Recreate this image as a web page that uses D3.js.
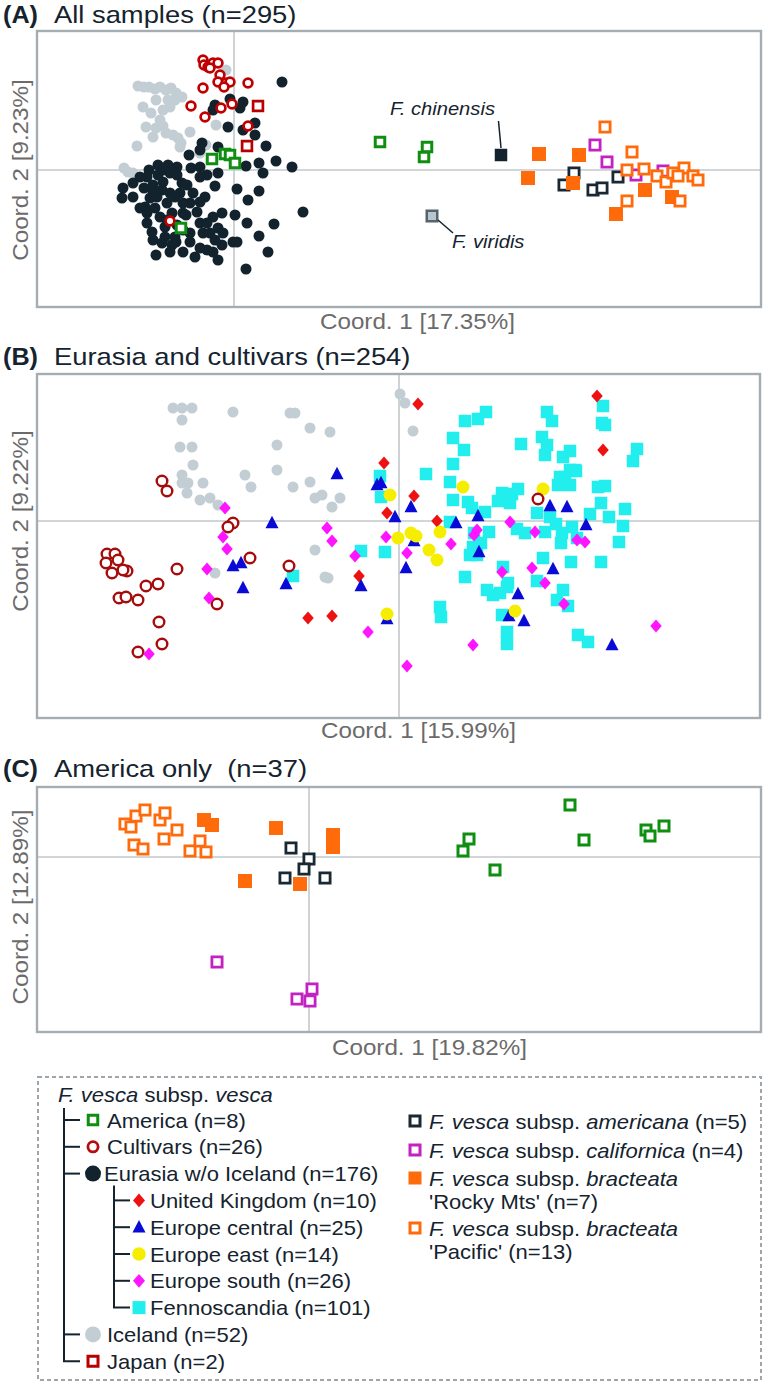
<!DOCTYPE html>
<html><head><meta charset="utf-8">
<script src="https://cdn.jsdelivr.net/npm/d3@7"></script>
<style>body{margin:0;background:#fff;} svg{display:block;font-family:"Liberation Sans",Arial,Helvetica,sans-serif;} text{white-space:pre;}</style>
</head><body><svg id="c" width="766" height="1385"></svg>
<script>
// ---------- DATA (PCoA scores, arbitrary units x100) ----------
// Panel A: all samples
const aIceland = [[-96,84],[-90,83],[-85,83],[-79,81],[-74,83],[-68,80],[-63,82],[-58,77],[-52,73],[-59,70],[-66,70],[-78,70],[-91,63],[-71,60],[-64,63],[-88,43],[-78,42],[-71,44],[-68,37],[-61,35],[-56,32],[-53,27],[-44,38],[-81,33],[-97,24],[-28,25],[-18,45],[-8,100],[-110,2],[-106,-2],[-101,-3],[-34,17],[-74,50],[-83,57],[-54,23]];
const aEurasia = [[48,88],[9,68],[6,62],[-4,71],[-19,65],[-21,60],[-6,43],[21,47],[21,35],[9,40],[-32,27],[-45,15],[-34,20],[-16,23],[32,24],[42,9],[58,3],[29,-3],[25,7],[12,4],[-43,2],[-34,3],[-27,-5],[-16,-3],[-19,-16],[3,-19],[25,-21],[14,-30],[69,-42],[40,-54],[25,-66],[34,-82],[12,-99],[1,-45],[13,-53],[-1,-72],[3,-72],[-12,-43],[-21,-47],[-16,-58],[-12,-75],[-16,-90],[-21,-82],[-34,-78],[-51,-82],[-64,-82],[-78,-85],[-72,-73],[-58,-72],[-44,-63],[-34,-53],[-31,-63],[-37,-42],[-44,-33],[-34,-32],[-47,-15],[-54,-23],[-111,-18],[-112,-28],[-101,-27],[-90,-18],[-87,-7],[-76,5],[-66,5],[-57,-5],[-64,-3],[-76,-5],[-81,-15],[-72,-20],[-84,-28],[-89,-37],[-79,-38],[-67,-33],[-62,-43],[-74,-47],[-87,-53],[-82,-62],[-69,-57],[-57,-55],[-51,-43],[-59,-27],[-71,-12],[-52,-13],[-64,-23],[-77,-27],[-87,-43],[-94,-38],[-51,-60],[-44,-72],[-24,-63],[-27,-53],[-59,-67],[-69,-67],[-67,-50],[-81,-22],[-51,-33],[-41,-23],[-29,-27],[-48,-45],[-81,-70],[-62,-75],[-39,-87],[-27,-80],[-19,-70],[-11,-63],[-34,-7],[-57,3],[-71,0],[-85,0],[-94,-7],[-101,-13]];
const aCultivars = [[-31,110],[-30,105],[-26,103],[-21,107],[-16,107],[-14,95],[-16,88],[-8,87],[-4,88],[14,87],[-31,82],[-43,64],[-29,53],[-13,62],[-2,66],[14,44],[-64,-51],[-24,102],[-10,83]];
const aJapan = [[24,64],[13,24]];
const aAmerica = [[-22,11],[-9,16],[-4,15],[1,7],[-53,-58],[146,28],[193,23],[190,13]];
const aAmericana = [[340,-3],[330,-15],[359,-20],[368,-18],[384,-7]];
const aCalifornica = [[361,25],[373,8],[402,-5],[429,-1]];
const aRocky = [[305,16],[345,15],[294,-8],[339,-13],[411,-20],[438,-27],[382,-44]];
const aPacific = [[371,43],[398,18],[393,0],[410,1],[423,-6],[432,-12],[439,-3],[450,2],[459,-6],[464,-10],[446,-31],[393,-31],[444,-6]];
const aChinensis = [[267,15]];
const aViridis = [[198,-46]];

// Panel B: Eurasia and cultivars
const bIceland = [[-226,113],[-217,113],[-207,113],[-217,101],[-166,109],[-109,108],[-104,108],[-89,93],[-69,89],[-219,74],[-207,74],[-122,76],[-206,56],[-217,46],[-211,38],[-217,38],[-212,28],[-199,21],[-189,23],[-181,16],[-196,38],[-154,46],[-148,34],[-122,51],[-106,34],[-89,39],[-77,26],[-84,23],[-59,23],[-67,14],[-84,-29],[-74,-56],[-71,-57],[-184,-52],[1,127],[6,118],[14,90]];
const bFenno = [[-19,45],[-18,24],[-38,-30],[-14,-31],[-106,-55],[27,47],[41,-86],[42,-96],[66,100],[79,102],[87,109],[54,83],[65,71],[54,57],[51,39],[54,21],[69,19],[73,13],[86,9],[90,-11],[75,-12],[74,-26],[82,-22],[51,-1],[71,-34],[78,-34],[66,-56],[88,-69],[94,-74],[101,-72],[108,-66],[104,-46],[109,-62],[103,-94],[108,-111],[108,-123],[103,28],[113,27],[119,32],[99,20],[111,18],[118,-8],[126,-12],[138,8],[146,-11],[144,-37],[138,-60],[148,109],[153,100],[143,84],[148,76],[146,66],[122,77],[151,4],[159,36],[166,44],[171,36],[161,44],[171,51],[176,51],[164,64],[171,70],[177,50],[157,-3],[163,-12],[162,-22],[173,-6],[178,-17],[172,-41],[164,-69],[158,-79],[169,-85],[179,-114],[189,-121],[191,7],[203,98],[204,115],[206,96],[199,34],[206,35],[202,18],[210,4],[224,-5],[220,-21],[226,12],[202,-41],[238,72],[234,60]];
const bCultivars = [[-237,40],[-232,30],[-166,-2],[-171,-6],[-292,-33],[-284,-33],[-293,-42],[-281,-39],[-287,-52],[-272,-50],[-276,-49],[-222,-48],[-241,-63],[-253,-65],[-280,-77],[-273,-76],[-261,-79],[-240,-101],[-237,-123],[-261,-131],[-182,-83],[-149,-37],[-110,-45],[139,22]];
const bUK = [[19,117],[-15,58],[15,25],[-12,8],[38,0],[-40,-55],[-91,-97],[-67,-95],[198,125],[204,71]];
const bCentral = [[-62,47],[-127,-2],[-166,-45],[-158,-42],[-156,-67],[-113,-63],[-38,-65],[-22,36],[-18,38],[12,14],[-4,4],[7,-47],[15,-20],[-12,-98],[57,-2],[79,5],[80,-31],[151,15],[168,14],[187,-4],[154,-48],[119,-73],[110,-95],[125,-100],[213,-124]];
const bEast = [[-9,26],[-1,-17],[12,-12],[17,-15],[30,-29],[38,-39],[41,-11],[-12,-93],[64,34],[144,32],[116,-90]];
const bSouth = [[-174,13],[-176,-16],[-172,-28],[-192,-48],[-190,-77],[-250,-133],[-72,-7],[-67,-20],[-44,-35],[-31,-111],[-13,-16],[8,-32],[52,-23],[8,-145],[75,-14],[78,-9],[111,-1],[136,-11],[103,-51],[133,-47],[146,-62],[165,-83],[178,-19],[186,-21],[74,-124],[257,-105]];

// Panel C: America only
const cPacific = [[-184,33],[-178,30],[-173,41],[-164,47],[-149,37],[-144,44],[-132,27],[-145,18],[-175,12],[-166,8],[-119,6],[-109,16],[-103,5]];
const cRocky = [[-105,37],[-97,32],[-33,29],[24,22],[24,10],[-64,-24],[-9,-27]];
const cAmericana = [[-18,9],[0,-2],[-5,-12],[-24,-21],[16,-21]];
const cCalifornica = [[-92,-105],[3,-132],[-12,-142],[1,-144]];
const cAmerica = [[261,52],[160,18],[154,6],[186,-13],[275,17],[337,27],[341,21],[355,31]];

// Axis domains and texts
const domainsX = [[-197,527],[-362,361],[-272,452]];
const domainsY = [[-137,139],[-197,147],[-175,70]];
const panelLetters = ["(A)","(B)","(C)"];
const panelTitles = ["All samples (n=295)","Eurasia and cultivars (n=254)","America only  (n=37)"];
const xAxisLabels = ["Coord. 1 [17.35%]","Coord. 1 [15.99%]","Coord. 1 [19.82%]"];
const yAxisLabels = ["Coord. 2 [9.23%]","Coord. 2 [9.22%]","Coord. 2 [12.89%]"];
const speciesLabels = ["F. chinensis","F. viridis"];

const legendHeading = [["F. ","i"],["vesca","i"],[" subsp. ",""],["vesca","i"]];
const legendLeft = [
  {label:"America (n=8)", lvl:0, m:"america"},
  {label:"Cultivars (n=26)", lvl:0, m:"cultivar"},
  {label:"Eurasia w/o Iceland (n=176)", lvl:0, m:"eurasia"},
  {label:"United Kingdom (n=10)", lvl:1, m:"uk"},
  {label:"Europe central (n=25)", lvl:1, m:"central"},
  {label:"Europe east (n=14)", lvl:1, m:"east"},
  {label:"Europe south (n=26)", lvl:1, m:"south"},
  {label:"Fennoscandia (n=101)", lvl:1, m:"fenno"},
  {label:"Iceland (n=52)", lvl:0, m:"iceland"},
  {label:"Japan (n=2)", lvl:0, m:"japan"}
];
const legendRight = [
  {m:"americana", lines:[[["F. vesca","i"],[" subsp. ",""],["americana","i"],[" (n=5)",""]]]},
  {m:"californica", lines:[[["F. vesca","i"],[" subsp. ",""],["californica","i"],[" (n=4)",""]]]},
  {m:"rocky", lines:[[["F. vesca","i"],[" subsp. ",""],["bracteata","i"]],[["'Rocky Mts' (n=7)",""]]]},
  {m:"pacific", lines:[[["F. vesca","i"],[" subsp. ",""],["bracteata","i"]],[["'Pacific' (n=13)",""]]]}
];

// ---------- STYLES ----------
const C = {dark:"#13232e", grey:"#c3ced4", red:"#c00000", red2:"#a50c0c", green:"#0f8f12", orange:"#ff6a0a",
  magenta:"#c322c3", uk:"#ee1111", blue:"#0a0ad6", yellow:"#f6ee00", pink:"#ff14ff", cyan:"#22eeee",
  frame:"#a4adb2", cross:"#c3c8cb", text:"#14232e", axis:"#6b6b6b"};
const M = {
  iceland:{t:"circle", s:11, fill:C.grey},
  eurasia:{t:"circle", s:11, fill:C.dark},
  cultivar:{t:"circle", s:11.5, fill:"#fff", stroke:C.red, sw:2.7},
  cultivarB:{t:"circle", s:13, fill:"#fff", stroke:C.red2, sw:2.4},
  japan:{t:"square", s:12.5, fill:"#fff", stroke:"#b80000", sw:2.7},
  america:{t:"square", s:12.5, fill:"#fff", stroke:C.green, sw:3},
  americaC:{t:"square", s:13, fill:"#fff", stroke:C.green, sw:3},
  americana:{t:"square", s:13, fill:"#fff", stroke:"#1a2833", sw:2.8},
  californica:{t:"square", s:13, fill:"#fff", stroke:C.magenta, sw:2.8},
  rocky:{t:"square", s:14, fill:C.orange},
  pacific:{t:"square", s:13, fill:"#fff", stroke:C.orange, sw:2.8},
  chinensis:{t:"square", s:12.5, fill:C.dark},
  viridis:{t:"square", s:13, fill:"#b9c5cc", stroke:"#56646e", sw:2.5},
  fenno:{t:"square", s:12.5, fill:C.cyan},
  uk:{t:"diamond", s:12.5, fill:C.uk},
  central:{t:"triangle", s:13, fill:C.blue},
  east:{t:"circle", s:13, fill:C.yellow},
  south:{t:"diamond", s:12.5, fill:C.pink}
};

function shapePath(t, outer, sw){
  const s = outer - (sw||0), h = s/2;
  if(t==="circle") return `M${h},0A${h},${h} 0 1,1 ${-h},0A${h},${h} 0 1,1 ${h},0Z`;
  if(t==="square") return `M${-h},${-h}h${s}v${s}h${-s}Z`;
  if(t==="diamond") return `M0,${-h*1.05}L${h*0.92},0L0,${h*1.05}L${-h*0.92},0Z`;
  if(t==="triangle") return `M0,${-0.55*s}L${h},${0.4*s}L${-h},${0.4*s}Z`;
}

const svg = d3.select("#c");
svg.append("rect").attr("width",766).attr("height",1385).attr("fill","#fff");

function stretchText(g, x, y, parts, o){
  o = o||{};
  const t = g.append("text")
    .attr("transform", `translate(${x},${y})` + (o.rot?` rotate(${o.rot})`:"") + ` scale(${o.sx||1.1},1)`)
    .attr("font-size", o.size||20).attr("fill", o.fill||C.text)
    .attr("text-anchor", o.anchor||"start");
  parts.forEach(p => {
    t.append("tspan").text(p[0])
      .attr("font-style", p[1]&&p[1].includes("i")?"italic":null)
      .attr("font-weight", p[1]&&p[1].includes("b")?"bold":null);
  });
  return t;
}

function drawSeries(g, x, y, data, st){
  g.append("g").selectAll("path").data(data).join("path")
    .attr("d", shapePath(st.t, st.s, st.sw))
    .attr("transform", d => `translate(${x(d[0])},${y(d[1])})`)
    .attr("fill", st.fill).attr("stroke", st.stroke||"none").attr("stroke-width", st.sw||0);
}

const boxes = [{l:37,r:761,t:31,b:307},{l:37,r:760,t:374,b:718},{l:37,r:761,t:787,b:1032}];
const titleBase = [23,365,777];
const xLabelPos = [[320,329],[321,738],[332,1055]];
const yLabelPos = [[28,170],[28,521],[28,907]];

const panelSeries = [
  [[aIceland,M.iceland],[aEurasia,M.eurasia],[aCultivars,M.cultivar],[aJapan,M.japan],[aAmerica,M.america],
   [aAmericana,M.americana],[aCalifornica,M.californica],[aRocky,M.rocky],[aPacific,M.pacific],
   [aChinensis,M.chinensis],[aViridis,M.viridis]],
  [[bIceland,M.iceland],[bFenno,M.fenno],[bUK,M.uk],[bCentral,M.central],[bEast,M.east],[bCultivars,M.cultivarB],[bSouth,M.south]],
  [[cPacific,M.pacific],[cRocky,M.rocky],[cAmericana,M.americana],[cCalifornica,M.californica],[cAmerica,M.americaC]]
];

const scales = [];
boxes.forEach((b,i) => {
  const g = svg.append("g");
  const x = d3.scaleLinear().domain(domainsX[i]).range([b.l,b.r]);
  const y = d3.scaleLinear().domain(domainsY[i]).range([b.b,b.t]);
  scales.push({x,y});
  g.append("line").attr("x1",x(0)).attr("x2",x(0)).attr("y1",b.t).attr("y2",b.b).attr("stroke",C.cross).attr("stroke-width",1.6);
  g.append("line").attr("x1",b.l).attr("x2",b.r).attr("y1",y(0)).attr("y2",y(0)).attr("stroke",C.cross).attr("stroke-width",1.6);
  panelSeries[i].forEach(([d,st]) => drawSeries(g,x,y,d,st));
  g.append("rect").attr("x",b.l).attr("y",b.t).attr("width",b.r-b.l).attr("height",b.b-b.t)
    .attr("fill","none").attr("stroke",C.frame).attr("stroke-width",2.4);
  stretchText(g, 3, titleBase[i], [[panelLetters[i],"b"]], {size:24, sx:1.05});
  stretchText(g, 54, titleBase[i], [[panelTitles[i],""]], {size:24, sx:1.14});
  stretchText(g, xLabelPos[i][0], xLabelPos[i][1], [[xAxisLabels[i],""]], {size:22, sx:1.1, fill:C.axis});
  stretchText(g, yLabelPos[i][0], yLabelPos[i][1], [[yAxisLabels[i],""]], {size:22, sx:1.1, fill:C.axis, rot:-90, anchor:"middle"});
});

// species annotations in panel A
{
  const {x,y} = scales[0];
  const g = svg.append("g");
  const pc = [x(aChinensis[0][0]), y(aChinensis[0][1])];
  g.append("line").attr("x1",pc[0]).attr("y1",pc[1]-7).attr("x2",pc[0]-2.5).attr("y2",pc[1]-34).attr("stroke",C.dark).attr("stroke-width",1.5);
  stretchText(g, pc[0]-111, pc[1]-40, [[speciesLabels[0],"i"]], {size:18, sx:1.12});
  const pv = [x(aViridis[0][0]), y(aViridis[0][1])];
  g.append("line").attr("x1",pv[0]+6).attr("y1",pv[1]+4).attr("x2",pv[0]+21).attr("y2",pv[1]+17).attr("stroke",C.dark).attr("stroke-width",1.5);
  stretchText(g, pv[0]+20, pv[1]+32, [[speciesLabels[1],"i"]], {size:18, sx:1.12});
}

// ---------- LEGEND ----------
{
  const g = svg.append("g");
  g.append("rect").attr("x",38).attr("y",1077).attr("width",723).attr("height",303)
    .attr("fill","none").attr("stroke","#9ea6ab").attr("stroke-width",2).attr("stroke-dasharray","4,3");
  stretchText(g, 58, 1102, legendHeading, {size:20, sx:1.1});
  const y0 = 1120, dy = 26.8;
  const ys = legendLeft.map((d,i) => y0 + i*dy);
  const lineC = C.text;
  g.append("path").attr("d", `M64,1108V${ys[ys.length-1]}H80`).attr("fill","none").attr("stroke",lineC).attr("stroke-width",2);
  const subIdx = legendLeft.map((d,i)=>d.lvl===1?i:-1).filter(i=>i>=0);
  g.append("path").attr("d", `M114,${ys[2]+12}V${ys[subIdx[subIdx.length-1]]}H130`).attr("fill","none").attr("stroke",lineC).attr("stroke-width",2);
  const legendMarker = {america:M.america, cultivar:{t:"circle",s:13,fill:"#fff",stroke:"#b40d0d",sw:2.8},
    eurasia:{t:"circle",s:16,fill:C.dark}, uk:{t:"diamond",s:13,fill:C.uk}, central:{t:"triangle",s:13,fill:C.blue},
    east:{t:"circle",s:13.5,fill:C.yellow}, south:{t:"diamond",s:13,fill:C.pink}, fenno:{t:"square",s:13,fill:C.cyan},
    iceland:{t:"circle",s:16,fill:C.grey}, japan:{t:"square",s:13,fill:"#fff",stroke:"#b80000",sw:3},
    americana:{t:"square",s:13,fill:"#fff",stroke:"#1a2833",sw:3}, californica:{t:"square",s:13,fill:"#fff",stroke:C.magenta,sw:3},
    rocky:{t:"square",s:13,fill:C.orange}, pacific:{t:"square",s:13,fill:"#fff",stroke:C.orange,sw:3}};
  legendLeft.forEach((d,i) => {
    const yy = ys[i];
    const st = legendMarker[d.m];
    if(d.lvl===0){
      if(d.m!=="japan") g.append("line").attr("x1",64).attr("x2",80).attr("y1",yy).attr("y2",yy).attr("stroke",lineC).attr("stroke-width",2);
      g.append("path").attr("d",shapePath(st.t,st.s,st.sw)).attr("transform",`translate(93,${yy})`)
        .attr("fill",st.fill).attr("stroke",st.stroke||"none").attr("stroke-width",st.sw||0);
      stretchText(g, d.m==="eurasia"?104:107, yy+7.5, [[d.label,""]], {size:20, sx:1.1});
    } else {
      if(i!==subIdx[subIdx.length-1]) g.append("line").attr("x1",114).attr("x2",130).attr("y1",yy).attr("y2",yy).attr("stroke",lineC).attr("stroke-width",2);
      g.append("path").attr("d",shapePath(st.t,st.s,st.sw)).attr("transform",`translate(139,${yy})`)
        .attr("fill",st.fill).attr("stroke",st.stroke||"none").attr("stroke-width",st.sw||0);
      stretchText(g, 150, yy+7.5, [[d.label,""]], {size:20, sx:1.1});
    }
  });
  const rys = [1121, 1150, 1178, 1228];
  legendRight.forEach((d,i) => {
    const yy = rys[i];
    const st = legendMarker[d.m];
    g.append("path").attr("d",shapePath(st.t,st.s,st.sw)).attr("transform",`translate(415,${yy})`)
      .attr("fill",st.fill).attr("stroke",st.stroke||"none").attr("stroke-width",st.sw||0);
    d.lines.forEach((ln,j) => stretchText(g, 429, yy+7.5+j*23, ln, {size:20, sx:1.1}));
  });
}
</script></body></html>
